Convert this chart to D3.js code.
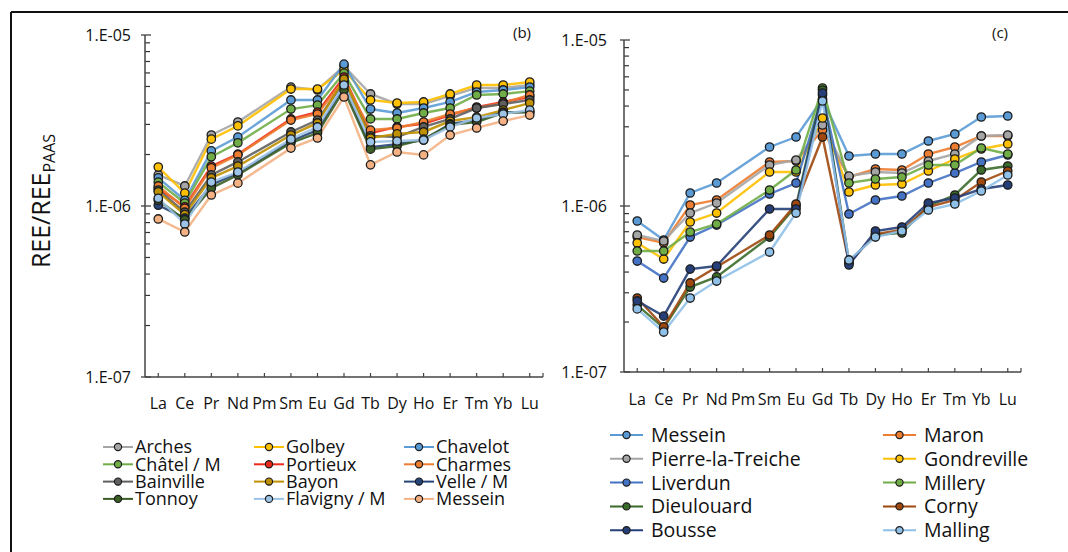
<!DOCTYPE html>
<html>
<head>
<meta charset="utf-8">
<script src="https://cdn.jsdelivr.net/npm/d3@7"></script>
<style>
  body { margin: 0; background: #fff; }
  text { font-family: "Open Sans", Lato, sans-serif; fill: #111; }
</style>
</head>
<body>
<svg id="chart"></svg>
<script>
const elements = ["La", "Ce", "Pr", "Nd", "Pm", "Sm", "Eu", "Gd", "Tb", "Dy", "Ho", "Er", "Tm", "Yb", "Lu"];
const yTickValues = [1e-7, 1e-6, 1e-5];
const yTickLabels = ["1.E-07", "1.E-06", "1.E-05"];

// panel (b) - Moselle upstream sites, Pm not measured
const bNames = ["Arches", "Golbey", "Chavelot", "Châtel / M", "Portieux", "Charmes",
                "Bainville", "Bayon", "Velle / M", "Tonnoy", "Flavigny / M", "Messein"];
const bArches   = [1.52e-6, 1.31e-6, 2.60e-6, 3.10e-6, null, 4.96e-6, 4.77e-6, 6.58e-6, 4.52e-6, 3.95e-6, 3.95e-6, 4.40e-6, 4.90e-6, 4.90e-6, 5.10e-6];
const bGolbey   = [1.69e-6, 1.19e-6, 2.46e-6, 2.94e-6, null, 4.83e-6, 4.83e-6, 6.24e-6, 4.17e-6, 4.00e-6, 4.06e-6, 4.52e-6, 5.10e-6, 5.10e-6, 5.31e-6];
const bChavelot = [1.46e-6, 1.08e-6, 2.10e-6, 2.53e-6, null, 4.17e-6, 4.17e-6, 6.76e-6, 3.69e-6, 3.50e-6, 3.74e-6, 4.06e-6, 4.64e-6, 4.77e-6, 4.96e-6];
const bChatel   = [1.38e-6, 1.04e-6, 1.94e-6, 2.34e-6, null, 3.69e-6, 3.89e-6, 5.99e-6, 3.23e-6, 3.23e-6, 3.50e-6, 3.74e-6, 4.46e-6, 4.52e-6, 4.70e-6];
const bPortieux = [1.27e-6, 0.99e-6, 1.71e-6, 2.01e-6, null, 3.23e-6, 3.54e-6, 5.68e-6, 2.67e-6, 2.90e-6, 3.02e-6, 3.40e-6, 3.79e-6, 4.06e-6, 4.34e-6];
const bCharmes  = [1.31e-6, 0.97e-6, 1.67e-6, 1.99e-6, null, 3.18e-6, 3.45e-6, 5.45e-6, 2.78e-6, 2.86e-6, 3.10e-6, 3.45e-6, 3.74e-6, 4.00e-6, 4.46e-6];
const bBainville= [1.24e-6, 0.92e-6, 1.52e-6, 1.81e-6, null, 2.71e-6, 3.18e-6, 5.31e-6, 2.57e-6, 2.53e-6, 2.90e-6, 3.23e-6, 3.74e-6, 3.95e-6, 4.17e-6];
const bBayon    = [1.21e-6, 0.89e-6, 1.46e-6, 1.71e-6, null, 2.60e-6, 3.06e-6, 5.53e-6, 2.50e-6, 2.64e-6, 2.71e-6, 3.14e-6, 3.31e-6, 3.64e-6, 4.00e-6];
const bVelle    = [1.01e-6, 0.85e-6, 1.33e-6, 1.56e-6, null, 2.40e-6, 2.78e-6, 5.03e-6, 2.21e-6, 2.30e-6, 2.43e-6, 3.02e-6, 3.18e-6, 3.54e-6, 3.54e-6];
const bTonnoy   = [1.08e-6, 0.83e-6, 1.27e-6, 1.52e-6, null, 2.34e-6, 2.67e-6, 4.77e-6, 2.15e-6, 2.24e-6, 2.46e-6, 2.98e-6, 3.10e-6, 3.50e-6, 3.54e-6];
const bFlavigny = [1.11e-6, 0.785e-6, 1.38e-6, 1.58e-6, null, 2.46e-6, 2.90e-6, 5.10e-6, 2.37e-6, 2.40e-6, 2.43e-6, 2.90e-6, 3.27e-6, 3.45e-6, 3.64e-6];
const bMessein  = [0.84e-6, 0.705e-6, 1.16e-6, 1.36e-6, null, 2.18e-6, 2.50e-6, 4.34e-6, 1.74e-6, 2.07e-6, 1.99e-6, 2.60e-6, 2.86e-6, 3.14e-6, 3.40e-6];
const bColors = ["#a5a5a5", "#ffc000", "#5b9bd5", "#70ad47", "#ee2a1b", "#ed7d31",
                 "#5f5f5f", "#bf9000", "#264478", "#3b5e25", "#9dc3e6", "#f4b183"];

// panel (c) - Moselle downstream sites
const cNames = ["Messein", "Maron", "Pierre-la-Treiche", "Gondreville", "Liverdun",
                "Millery", "Dieulouard", "Corny", "Bousse", "Malling"];
const cMessein    = [0.812e-6, 0.624e-6, 1.198e-6, 1.376e-6, null, 2.267e-6, 2.604e-6, 4.411e-6, 2.001e-6, 2.057e-6, 2.057e-6, 2.464e-6, 2.715e-6, 3.437e-6, 3.485e-6];
const cMaron      = [0.650e-6, 0.599e-6, 1.014e-6, 1.087e-6, null, 1.841e-6, 1.867e-6, 2.870e-6, 1.495e-6, 1.671e-6, 1.648e-6, 2.057e-6, 2.267e-6, 2.641e-6, 2.641e-6];
const cPierre     = [0.669e-6, 0.615e-6, 0.907e-6, 1.042e-6, null, 1.766e-6, 1.893e-6, 3.076e-6, 1.516e-6, 1.603e-6, 1.580e-6, 1.867e-6, 2.057e-6, 2.641e-6, 2.677e-6];
const cGondreville= [0.599e-6, 0.479e-6, 0.801e-6, 0.907e-6, null, 1.603e-6, 1.603e-6, 3.389e-6, 1.214e-6, 1.338e-6, 1.357e-6, 1.625e-6, 1.919e-6, 2.205e-6, 2.363e-6];
const cLiverdun   = [0.466e-6, 0.368e-6, 0.650e-6, 0.768e-6, null, 1.181e-6, 1.376e-6, 4.663e-6, 0.895e-6, 1.087e-6, 1.149e-6, 1.376e-6, 1.580e-6, 1.841e-6, 2.029e-6];
const cMillery    = [0.536e-6, 0.536e-6, 0.697e-6, 0.779e-6, null, 1.248e-6, 1.648e-6, 5.139e-6, 1.376e-6, 1.454e-6, 1.495e-6, 1.766e-6, 1.766e-6, 2.236e-6, 2.057e-6];
const cDieulouard = [0.253e-6, 0.184e-6, 0.325e-6, 0.374e-6, null, 0.650e-6, 1.000e-6, 4.998e-6, 0.460e-6, 0.669e-6, 0.688e-6, 1.000e-6, 1.165e-6, 1.648e-6, 1.742e-6];
const cCorny      = [0.279e-6, 0.187e-6, 0.344e-6, 0.429e-6, null, 0.669e-6, 1.028e-6, 2.604e-6, 0.454e-6, 0.678e-6, 0.717e-6, 0.986e-6, 1.087e-6, 1.395e-6, 1.625e-6];
const cBousse     = [0.268e-6, 0.217e-6, 0.417e-6, 0.435e-6, null, 0.959e-6, 0.959e-6, 4.794e-6, 0.441e-6, 0.707e-6, 0.747e-6, 1.042e-6, 1.117e-6, 1.266e-6, 1.338e-6];
const cMalling    = [0.240e-6, 0.174e-6, 0.279e-6, 0.353e-6, null, 0.528e-6, 0.907e-6, 4.291e-6, 0.473e-6, 0.650e-6, 0.707e-6, 0.946e-6, 1.028e-6, 1.231e-6, 1.537e-6];
const cColors = ["#5b9bd5", "#ed7d31", "#a5a5a5", "#ffc000", "#4472c4",
                 "#70ad47", "#3b6b2a", "#9e480e", "#263f78", "#8fc0e8"];

const bValues = [bArches, bGolbey, bChavelot, bChatel, bPortieux, bCharmes,
                 bBainville, bBayon, bVelle, bTonnoy, bFlavigny, bMessein];
const cValues = [cMessein, cMaron, cPierre, cGondreville, cLiverdun,
                 cMillery, cDieulouard, cCorny, cBousse, cMalling];

const width = 1068, height = 552;

const svg = d3.select("#chart")
  .attr("width", width)
  .attr("height", height);

// outer frame (only top and left edges show)
svg.append("line").attr("x1", 11).attr("x2", width).attr("y1", 12).attr("y2", 12)
  .attr("stroke", "#111").attr("stroke-width", 2);
svg.append("line").attr("x1", 11).attr("x2", 11).attr("y1", 12).attr("y2", height)
  .attr("stroke", "#111").attr("stroke-width", 2);

function drawPanel(p) {
  const g = svg.append("g");

  const x = d3.scalePoint().domain(elements).range([p.x0, p.x1]).padding(0.5);
  const y = d3.scaleLog().domain([1e-7, 1e-5]).range([p.y1, p.y0]);

  // minor log ticks, pointing inwards
  const minor = [];
  for (let e = -7; e < -5; e++) {
    for (let m = 2; m <= 9; m++) minor.push(m * Math.pow(10, e));
  }
  g.selectAll(".minor").data(minor).enter().append("line")
    .attr("x1", p.x0).attr("x2", p.x0 + 5)
    .attr("y1", d => y(d)).attr("y2", d => y(d))
    .attr("stroke", "#333").attr("stroke-width", 1.2);

  g.selectAll(".major").data(yTickValues).enter().append("line")
    .attr("x1", p.x0 - 4).attr("x2", p.x0 + 6)
    .attr("y1", d => y(d)).attr("y2", d => y(d))
    .attr("stroke", "#333").attr("stroke-width", 1.2);

  g.selectAll(".ylab").data(yTickValues).enter().append("text")
    .attr("x", p.x0 - p.labGap).attr("y", d => y(d))
    .attr("dy", "0.35em")
    .attr("text-anchor", "end")
    .style("font-size", "16px")
    .text((d, i) => yTickLabels[i]);

  // axes lines
  g.append("line").attr("x1", p.x0).attr("x2", p.x0).attr("y1", p.y0).attr("y2", p.y1)
    .attr("stroke", "#444").attr("stroke-width", 1.5);
  g.append("line").attr("x1", p.x0).attr("x2", p.x1).attr("y1", p.y1).attr("y2", p.y1)
    .attr("stroke", "#444").attr("stroke-width", 1.5);

  g.selectAll(".xtick").data(elements).enter().append("line")
    .attr("x1", d => x(d)).attr("x2", d => x(d))
    .attr("y1", p.y1).attr("y2", p.y1 - 4)
    .attr("stroke", "#444").attr("stroke-width", 1.2);
  g.append("line").attr("x1", p.x1).attr("x2", p.x1).attr("y1", p.y1).attr("y2", p.y1 - 4)
    .attr("stroke", "#444").attr("stroke-width", 1.2);

  g.selectAll(".xlab").data(elements).enter().append("text")
    .attr("x", d => x(d)).attr("y", p.labY)
    .attr("dy", "0.35em")
    .attr("text-anchor", "middle")
    .style("font-size", "16px")
    .text(d => d);

  g.append("text")
    .attr("x", p.tagX).attr("y", p.tagY)
    .attr("dy", "0.35em")
    .attr("text-anchor", "middle")
    .style("font-size", "15px")
    .text(p.tag);

  // series (Pm gap is bridged)
  const line = d3.line()
    .x(d => x(d.el))
    .y(d => y(d.v));

  const series = p.values.map((vals, i) => ({
    name: p.names[i],
    color: p.colors[i],
    pts: vals.map((v, j) => ({ el: elements[j], v: v })).filter(d => d.v != null)
  }));

  g.selectAll(".series").data(series).enter().append("path")
    .attr("fill", "none")
    .attr("stroke", d => d.color)
    .attr("stroke-width", 2.4)
    .attr("stroke-opacity", 0.9)
    .attr("d", d => line(d.pts));

  series.forEach(s => {
    g.selectAll(null).data(s.pts).enter().append("circle")
      .attr("cx", d => x(d.el))
      .attr("cy", d => y(d.v))
      .attr("r", 4.2)
      .attr("fill", s.color)
      .attr("stroke", "#1c1c1c")
      .attr("stroke-width", 1.3);
  });

  // legend
  const leg = g.selectAll(".leg").data(series).enter().append("g")
    .attr("transform", (d, i) => {
      const col = i % p.legCols, row = Math.floor(i / p.legCols);
      return `translate(${p.legX[col]}, ${p.legY0 + row * p.legDy})`;
    });
  leg.append("line")
    .attr("x1", 0).attr("x2", p.legLine)
    .attr("stroke", d => d.color).attr("stroke-width", 2);
  leg.append("circle")
    .attr("cx", p.legLine / 2).attr("r", 3.6)
    .attr("fill", d => d.color)
    .attr("stroke", "#1c1c1c").attr("stroke-width", 1.2);
  leg.append("text")
    .attr("x", p.legLine + p.legTextGap)
    .attr("dy", "0.36em")
    .style("font-size", p.legFont + "px")
    .text(d => d.name);
}

drawPanel({
  x0: 145, x1: 543, y0: 35, y1: 377, labGap: 14, labY: 403,
  tag: "(b)", tagX: 522, tagY: 33,
  names: bNames, values: bValues, colors: bColors,
  legCols: 3, legX: [103, 254, 404], legY0: 447, legDy: 17.3,
  legLine: 30, legTextGap: 2, legFont: 18
});

drawPanel({
  x0: 624, x1: 1021, y0: 40, y1: 372, labGap: 17, labY: 399,
  tag: "(c)", tagX: 1000, tagY: 33,
  names: cNames, values: cValues, colors: cColors,
  legCols: 2, legX: [610, 883], legY0: 435, legDy: 23.8,
  legLine: 33, legTextGap: 8, legFont: 19.5
});

// shared y title
const yTitle = svg.append("text")
  .attr("transform", "translate(50, 201) rotate(-90)")
  .attr("text-anchor", "middle")
  .style("font-size", "25px");
yTitle.append("tspan").text("REE/REE");
yTitle.append("tspan").attr("dy", 5).style("font-size", "16px").text("PAAS");
</script>
</body>
</html>
